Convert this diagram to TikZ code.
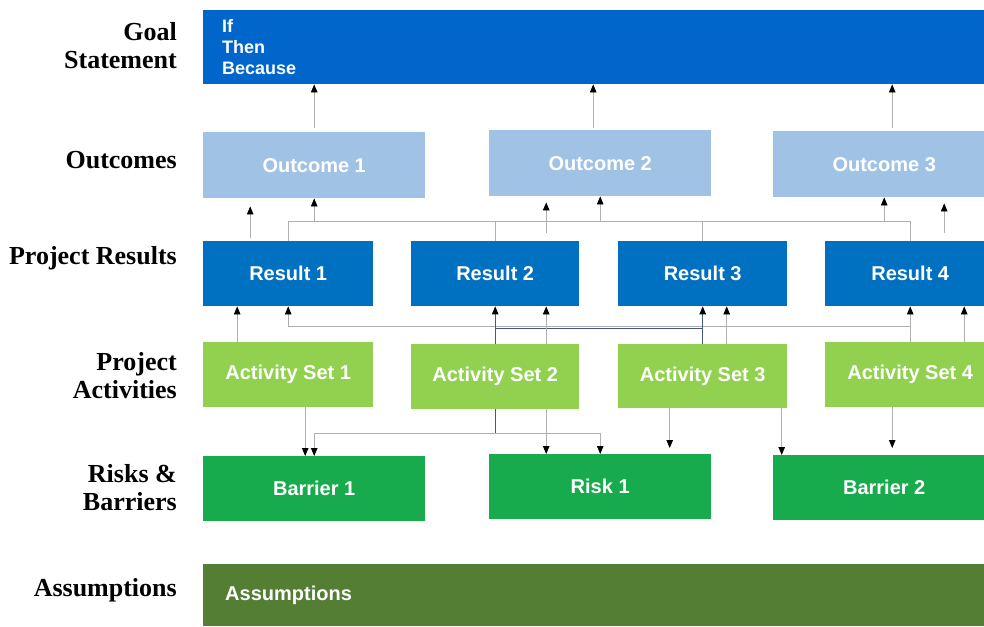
\documentclass[tikz,border=0pt]{standalone}
\usepackage{fontspec}
\setmainfont{Liberation Sans}
\newfontfamily\labelfont{Liberation Serif}
\usetikzlibrary{arrows.meta,positioning}

\definecolor{goalblue}{RGB}{0,102,204}
\definecolor{outcomeblue}{RGB}{160,194,228}
\definecolor{resultblue}{RGB}{0,112,192}
\definecolor{activitygreen}{RGB}{146,208,80}
\definecolor{riskgreen}{RGB}{24,171,77}
\definecolor{assumgreen}{RGB}{84,126,52}
\definecolor{wiregray}{RGB}{175,175,175}
\definecolor{wiredark}{RGB}{70,88,125}

\begin{document}
\begin{tikzpicture}[x=1pt,y=-1pt,
    box/.style={anchor=north west, inner sep=0pt, text=white,
        font=\fontsize{20}{24}\selectfont\bfseries},
    outcome/.style={box, fill=outcomeblue, minimum width=222pt, minimum height=66pt},
    result/.style={box, fill=resultblue, minimum width=170pt, minimum height=65pt},
    activity/.style={box, fill=activitygreen, minimum width=170pt, minimum height=65pt},
    risk/.style={box, fill=riskgreen, minimum width=222pt, minimum height=65pt},
    rowlabel/.style={anchor=east, align=right, inner sep=0pt,
        font=\labelfont\fontsize{26}{28}\selectfont\bfseries},
    wire/.style={draw=wiregray, line width=0.8pt},
    darkwire/.style={draw=wiredark, line width=0.9pt},
    arr/.style={wire, -{Triangle[length=8pt,width=6.5pt,color=black]}},
    darr/.style={darkwire, -{Triangle[length=8pt,width=6.5pt,color=black]}}]

\useasboundingbox (0,0) rectangle (984,626);

% row labels
\node[rowlabel] (lgoal) at (177,46) {Goal\\Statement};
\node[rowlabel] (lout) at (177,160) {Outcomes};
\node[rowlabel] (lres) at (177,258) {Project Results};
\node[rowlabel] (lact) at (177,376) {Project\\Activities};
\node[rowlabel] (lrisk) at (177,488) {Risks \&\\Barriers};
\node[rowlabel] (lass) at (177,590) {Assumptions};

% boxes
\node[box, fill=goalblue, minimum width=781pt, minimum height=74pt,
    inner xsep=19pt, text width=743pt, align=left,
    font=\fontsize{18}{21}\selectfont\bfseries] (goal) at (203,10) {If\\Then\\Because};

\node[outcome] (o1) at (203,132) {Outcome 1};
\node[outcome] (o2) at (489,130) {Outcome 2};
\node[outcome] (o3) at (773,131) {Outcome 3};

\node[result] (r1) at (203,241) {Result 1};
\node[result, minimum width=168pt] (r2) at (411,241) {Result 2};
\node[result, minimum width=169pt] (r3) at (618,241) {Result 3};
\node[result] (r4) at (825,241) {Result 4};

\node[activity] (a1) at (203,342) {Activity Set 1};
\node[activity, minimum width=168pt] (a2) at (411,344) {Activity Set 2};
\node[activity, minimum width=169pt, minimum height=64pt] (a3) at (618,344) {Activity Set 3};
\node[activity] (a4) at (825,342) {Activity Set 4};

\node[risk] (b1) at (203,456) {Barrier 1};
\node[risk] (k1) at (489,454) {Risk 1};
\node[risk] (b2) at (773,455) {Barrier 2};

\node[box, fill=assumgreen, minimum width=781pt, minimum height=62pt,
    inner xsep=22pt, text width=737pt, align=left] (ass) at (203,564) {Assumptions};

% bus lines
\coordinate (busup) at (0,221);
\coordinate (busdn) at (0,326);
\coordinate (busdk) at (0,328);
\coordinate (busrk) at (0,433);

% outcomes -> goal
\draw[arr] ([yshift=4pt]o1.north) -- (o1.north |- goal.south);
\draw[arr] ([xshift=-7pt,yshift=2pt]o2.north) -- ([xshift=-7pt]o2.north |- goal.south);
\draw[arr] ([xshift=8pt,yshift=3pt]o3.north) -- ([xshift=8pt]o3.north |- goal.south);

% results -> outcomes
\draw[wire] (r1.north) -- (r1.north |- busup) -- (r4.north |- busup) -- (r4.north);
\draw[wire] (r2.north) -- (r2.north |- busup);
\draw[wire] (r3.north) -- (r3.north |- busup);
\draw[arr] (o1.south |- busup) -- (o1.south);
\draw[arr] (o2.south |- busup) -- (o2.south);
\draw[arr] (o3.south |- busup) -- (o3.south);
\draw[arr, shorten >=8pt] ([xshift=-38pt,yshift=3pt]r1.north) -- ([xshift=-38pt]r1.north |- o1.south);
\draw[arr, shorten >=6pt] ([xshift=51pt,yshift=8pt]r2.north) -- ([xshift=51pt]r2.north |- o2.south);
\draw[arr, shorten >=6pt] ([xshift=34pt,yshift=8pt]r4.north) -- ([xshift=34pt]r4.north |- o3.south);

% activities -> results
\draw[arr] ([xshift=-51pt]a1.north) -- ([xshift=-51pt]a1.north |- r1.south);
\draw[arr] (a4.north |- busdn) -| (r1.south);
\draw[arr] (a4.north) -- (r4.south);
\draw[darkwire] (a2.north |- busdk) -- (a3.north |- busdk);
\draw[darr] (a2.north) -- (r2.south);
\draw[darr] (a3.north) -- (r3.south);
\draw[arr] ([xshift=51pt]a2.north) -- ([xshift=51pt]a2.north |- r2.south);
\draw[arr] ([xshift=24pt]a3.north) -- ([xshift=24pt]a3.north |- r3.south);
\draw[arr] ([xshift=54pt]a4.north) -- ([xshift=54pt]a4.north |- r4.south);

% activities -> risks and barriers
\draw[arr] ([xshift=17pt]a1.south) -- ([xshift=17pt]a1.south |- b1.north);
\draw[darkwire] (a2.south) -- (a2.south |- busrk);
\draw[arr] (b1.north |- busrk) -- (b1.north);
\draw[arr] (b1.north |- busrk) -- (k1.north |- busrk) -- (k1.north);
\draw[arr] ([xshift=51pt]a2.south) -- ([xshift=51pt]a2.south |- k1.north);
\draw[arr, shorten >=6pt] ([xshift=-33pt]a3.south) -- ([xshift=-33pt]a3.south |- k1.north);
\draw[arr] ([xshift=79pt]a3.south) -- ([xshift=79pt]a3.south |- b2.north);
\draw[arr, shorten >=7pt] ([xshift=-18pt]a4.south) -- ([xshift=-18pt]a4.south |- b2.north);
\end{tikzpicture}
\end{document}
